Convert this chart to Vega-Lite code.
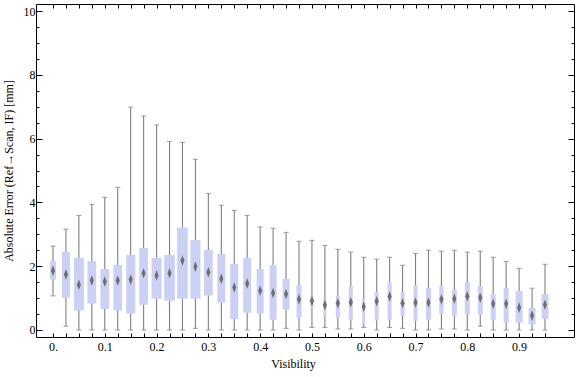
{
  "$schema": "https://vega.github.io/schema/vega-lite/v6.json",
  "autosize": "none",
  "width": 538,
  "height": 333,
  "padding": {"left": 36, "top": 4, "right": 2, "bottom": 40},
  "background": "white",
  "config": {
    "view": {"stroke": "black", "strokeWidth": 1},
    "scale": {"continuousPadding": 0},
    "axis": {
      "domain": false,
      "grid": false,
      "labelFont": "Liberation Serif",
      "labelFontSize": 12,
      "labelColor": "black",
      "titleFont": "Liberation Serif",
      "titleFontSize": 12,
      "titleFontWeight": "normal",
      "titleColor": "black",
      "tickColor": "black",
      "tickWidth": 1
    }
  },
  "resolve": {"scale": {"x": "independent", "y": "independent"}, "axis": {"x": "independent", "y": "independent"}},
  "data": {
    "values": [
      {"v": 0.000, "lo": 1.07, "q1": 1.58, "med": 1.86, "q3": 2.16, "hi": 2.63, "n": 60},
      {"v": 0.025, "lo": 0.12, "q1": 1.01, "med": 1.74, "q3": 2.45, "hi": 3.16, "n": 80},
      {"v": 0.050, "lo": 0.00, "q1": 0.61, "med": 1.42, "q3": 2.26, "hi": 3.59, "n": 100},
      {"v": 0.075, "lo": 0.00, "q1": 0.83, "med": 1.55, "q3": 2.16, "hi": 3.94, "n": 87},
      {"v": 0.100, "lo": 0.00, "q1": 0.66, "med": 1.52, "q3": 1.91, "hi": 4.16, "n": 87},
      {"v": 0.125, "lo": 0.00, "q1": 0.61, "med": 1.55, "q3": 2.04, "hi": 4.47, "n": 87},
      {"v": 0.150, "lo": 0.00, "q1": 0.51, "med": 1.58, "q3": 2.35, "hi": 6.99, "n": 90},
      {"v": 0.175, "lo": 0.00, "q1": 0.79, "med": 1.78, "q3": 2.57, "hi": 6.71, "n": 87},
      {"v": 0.200, "lo": 0.00, "q1": 0.98, "med": 1.71, "q3": 2.26, "hi": 6.43, "n": 100},
      {"v": 0.225, "lo": 0.00, "q1": 0.92, "med": 1.78, "q3": 2.35, "hi": 5.91, "n": 107},
      {"v": 0.250, "lo": 0.00, "q1": 0.98, "med": 2.18, "q3": 3.21, "hi": 5.88, "n": 107},
      {"v": 0.275, "lo": 0.05, "q1": 0.98, "med": 1.98, "q3": 2.82, "hi": 5.35, "n": 100},
      {"v": 0.300, "lo": 0.00, "q1": 1.08, "med": 1.81, "q3": 2.51, "hi": 4.28, "n": 87},
      {"v": 0.325, "lo": 0.00, "q1": 0.86, "med": 1.61, "q3": 2.38, "hi": 3.91, "n": 80},
      {"v": 0.350, "lo": 0.00, "q1": 0.34, "med": 1.33, "q3": 2.07, "hi": 3.75, "n": 80},
      {"v": 0.375, "lo": 0.00, "q1": 0.54, "med": 1.46, "q3": 2.26, "hi": 3.59, "n": 80},
      {"v": 0.400, "lo": 0.00, "q1": 0.51, "med": 1.23, "q3": 1.91, "hi": 3.23, "n": 70},
      {"v": 0.425, "lo": 0.00, "q1": 0.32, "med": 1.16, "q3": 2.04, "hi": 3.19, "n": 70},
      {"v": 0.450, "lo": 0.05, "q1": 0.64, "med": 1.13, "q3": 1.60, "hi": 3.06, "n": 70},
      {"v": 0.475, "lo": 0.00, "q1": 0.39, "med": 0.96, "q3": 1.41, "hi": 2.78, "n": 50},
      {"v": 0.500, "lo": 0.08, "q1": 0.70, "med": 0.91, "q3": 1.07, "hi": 2.81, "n": 33},
      {"v": 0.525, "lo": 0.08, "q1": 0.42, "med": 0.78, "q3": 0.96, "hi": 2.65, "n": 30},
      {"v": 0.550, "lo": 0.03, "q1": 0.37, "med": 0.84, "q3": 1.07, "hi": 2.53, "n": 40},
      {"v": 0.575, "lo": 0.03, "q1": 0.32, "med": 0.87, "q3": 1.38, "hi": 2.44, "n": 40},
      {"v": 0.600, "lo": 0.08, "q1": 0.20, "med": 0.73, "q3": 0.97, "hi": 2.28, "n": 30},
      {"v": 0.625, "lo": 0.00, "q1": 0.30, "med": 0.90, "q3": 1.19, "hi": 2.22, "n": 40},
      {"v": 0.650, "lo": 0.08, "q1": 0.32, "med": 1.05, "q3": 1.50, "hi": 2.28, "n": 40},
      {"v": 0.675, "lo": 0.05, "q1": 0.45, "med": 0.84, "q3": 1.19, "hi": 2.03, "n": 40},
      {"v": 0.700, "lo": 0.00, "q1": 0.29, "med": 0.86, "q3": 1.41, "hi": 2.40, "n": 40},
      {"v": 0.725, "lo": 0.00, "q1": 0.32, "med": 0.86, "q3": 1.32, "hi": 2.50, "n": 50},
      {"v": 0.750, "lo": 0.03, "q1": 0.51, "med": 0.96, "q3": 1.38, "hi": 2.47, "n": 43},
      {"v": 0.775, "lo": 0.03, "q1": 0.45, "med": 0.98, "q3": 1.25, "hi": 2.50, "n": 50},
      {"v": 0.800, "lo": 0.00, "q1": 0.48, "med": 1.06, "q3": 1.50, "hi": 2.44, "n": 50},
      {"v": 0.825, "lo": 0.12, "q1": 0.48, "med": 1.01, "q3": 1.38, "hi": 2.47, "n": 50},
      {"v": 0.850, "lo": 0.00, "q1": 0.32, "med": 0.82, "q3": 1.13, "hi": 2.28, "n": 50},
      {"v": 0.875, "lo": 0.00, "q1": 0.24, "med": 0.82, "q3": 1.32, "hi": 2.15, "n": 50},
      {"v": 0.900, "lo": 0.00, "q1": 0.23, "med": 0.70, "q3": 1.22, "hi": 1.93, "n": 70},
      {"v": 0.925, "lo": 0.00, "q1": 0.17, "med": 0.45, "q3": 0.69, "hi": 1.31, "n": 70},
      {"v": 0.950, "lo": 0.00, "q1": 0.35, "med": 0.79, "q3": 1.13, "hi": 2.06, "n": 70}
    ]
  },
  "layer": [
    {
      "mark": {"type": "rule", "color": "#808080", "strokeWidth": 1.1},
      "encoding": {
        "x": {
          "field": "v", "type": "quantitative",
          "scale": {"domain": [-0.0328, 1.006], "nice": false, "zero": false, "padding": 0},
          "axis": {
            "orient": "bottom",
            "title": "Visibility",
            "values": [0,0.025,0.05,0.075,0.1,0.125,0.15,0.175,0.2,0.225,0.25,0.275,0.3,0.325,0.35,0.375,0.4,0.425,0.45,0.475,0.5,0.525,0.55,0.575,0.6,0.625,0.65,0.675,0.7,0.725,0.75,0.775,0.8,0.825,0.85,0.875,0.9,0.925,0.95],
            "labelExpr": "abs(round(datum.value*10) - datum.value*10) < 0.000001 ? (datum.value == 0 ? '0.' : format(datum.value, '.1f')) : ''",
            "tickSize": -4,
            "labelPadding": 8,
            "labelFlush": false,
            "labelOverlap": false,
            "titlePadding": 6,
            "titleX": 257
          }
        },
        "y": {
          "field": "lo", "type": "quantitative",
          "scale": {"domain": [-0.22, 10.22], "nice": false, "zero": false, "padding": 0},
          "axis": {
            "orient": "left",
            "title": "Absolute Error (Ref→Scan, IF) [mm]",
            "values": [0,0.5,1,1.5,2,2.5,3,3.5,4,4.5,5,5.5,6,6.5,7,7.5,8,8.5,9,9.5,10],
            "labelExpr": "datum.value % 2 === 0 ? datum.value : ''",
            "tickSize": {"condition": {"test": "datum.value % 2 === 0", "value": -6}, "value": -3},
            "labelPadding": 7,
            "labelOverlap": false,
            "labelFlush": false,
            "titlePadding": 8
          }
        },
        "y2": {"field": "hi"}
      }
    },
    {
      "mark": {"type": "tick", "orient": "horizontal", "color": "#808080", "size": 5, "thickness": 1.1},
      "encoding": {
        "x": {"field": "v", "type": "quantitative",
          "scale": {"domain": [-0.0328, 1.006], "nice": false, "zero": false, "padding": 0},
          "axis": {
            "orient": "top",
            "title": null,
            "labels": false,
            "values": [0,0.025,0.05,0.075,0.1,0.125,0.15,0.175,0.2,0.225,0.25,0.275,0.3,0.325,0.35,0.375,0.4,0.425,0.45,0.475,0.5,0.525,0.55,0.575,0.6,0.625,0.65,0.675,0.7,0.725,0.75,0.775,0.8,0.825,0.85,0.875,0.9,0.925,0.95],
            "tickSize": -4
          }
        },
        "y": {"field": "hi", "type": "quantitative",
          "scale": {"domain": [-0.22, 10.22], "nice": false, "zero": false, "padding": 0},
          "axis": {
            "orient": "right",
            "title": null,
            "labels": false,
            "values": [0,0.5,1,1.5,2,2.5,3,3.5,4,4.5,5,5.5,6,6.5,7,7.5,8,8.5,9,9.5,10],
            "tickSize": {"condition": {"test": "datum.value % 2 === 0", "value": -6}, "value": -3}
          }
        }
      }
    },
    {
      "mark": {"type": "tick", "orient": "horizontal", "color": "#808080", "size": 5, "thickness": 1.1},
      "encoding": {
        "x": {"field": "v", "type": "quantitative",
          "scale": {"domain": [-0.0328, 1.006], "nice": false, "zero": false, "padding": 0}, "axis": null},
        "y": {"field": "lo", "type": "quantitative",
          "scale": {"domain": [-0.22, 10.22], "nice": false, "zero": false, "padding": 0}, "axis": null}
      }
    },
    {
      "mark": {"type": "bar", "color": "#cbd1f4"},
      "encoding": {
        "x": {"field": "v", "type": "quantitative",
          "scale": {"domain": [-0.0328, 1.006], "nice": false, "zero": false, "padding": 0}, "axis": null},
        "y": {"field": "q1", "type": "quantitative",
          "scale": {"domain": [-0.22, 10.22], "nice": false, "zero": false, "padding": 0}, "axis": null},
        "y2": {"field": "q3"},
        "size": {"field": "n", "type": "quantitative", "legend": null,
          "scale": {"type": "linear", "domain": [0, 110], "range": [0, 11], "zero": true}}
      }
    },
    {
      "mark": {"type": "point", "shape": "M0,-1L0.38,0L0,1L-0.38,0Z", "filled": true, "color": "#6f6f6f", "opacity": 1, "size": 112},
      "encoding": {
        "x": {"field": "v", "type": "quantitative",
          "scale": {"domain": [-0.0328, 1.006], "nice": false, "zero": false, "padding": 0}, "axis": null},
        "y": {"field": "med", "type": "quantitative",
          "scale": {"domain": [-0.22, 10.22], "nice": false, "zero": false, "padding": 0}, "axis": null}
      }
    }
  ]
}
